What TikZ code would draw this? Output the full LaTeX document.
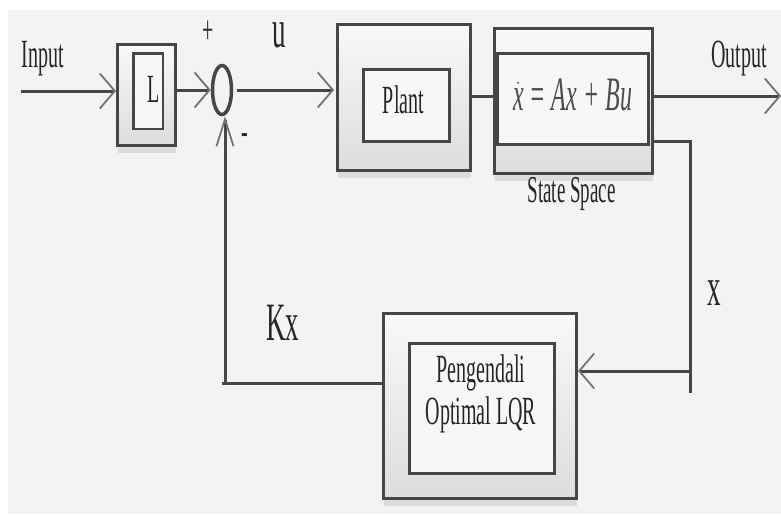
\documentclass[tikz,border=0pt]{standalone}
\usepackage{fontspec}
\setmainfont[FakeStretch=0.5]{Liberation Serif}
\usetikzlibrary{arrows.meta,shapes.geometric,shadows}
\definecolor{ln}{RGB}{70,70,70}
\definecolor{bg}{RGB}{243,243,243}

\begin{document}
\begin{tikzpicture}[x=1pt,y=-1pt,
  wire/.style={draw=ln,line width=3pt},
  harr/.style={wire,-{Straight Barb[length=15pt,width=35pt,line width=1.8pt 0,color=black!55]}},
  varr/.style={wire,-{Straight Barb[length=27pt,width=17pt,line width=1.8pt 0,color=black!55]}},
  outer/.style={draw=ln,line width=3pt,top color=gray!5,bottom color=gray!27,inner sep=0pt,
    drop shadow={shadow xshift=0pt,shadow yshift=-7pt,fill=gray!60,opacity=0.35}},
  inner/.style={draw=ln,line width=2.5pt,fill=bg!70!white,inner sep=0pt},
  lbl/.style={font=\fontsize{40}{42}\selectfont,text=black!85,anchor=base,inner sep=0pt},
  big/.style={font=\fontsize{54}{58}\selectfont,text=black!85,anchor=base,inner sep=0pt}]
  \useasboundingbox (0,0) rectangle (781,514);
  \fill[white] (0,0) rectangle (781,514);
  \fill[bg] (8,10) rectangle (781,514);

  \node[outer,minimum width=58pt,minimum height=101pt] (Lo) at (146.5,95) {};
  \node[inner,minimum width=29.5pt,minimum height=75.5pt] (Li) at (148,91) {};
  \node[draw=ln,line width=3.5pt,ellipse,inner sep=0pt,minimum width=19pt,minimum height=49pt] (sum) at (222,90) {};
  \node[outer,minimum width=133pt,minimum height=146pt] (Po) at (404,97.5) {};
  \node[inner,minimum width=86pt,minimum height=72pt] (Pi) at (406.5,105.5) {};
  \node[outer,minimum width=158pt,minimum height=145pt] (So) at (573.5,101) {};
  \node[inner,minimum width=151pt,minimum height=91pt] (Si) at (573,99) {};
  \node[outer,minimum width=193pt,minimum height=185pt] (Qo) at (480,406) {};
  \node[inner,minimum width=145pt,minimum height=130pt] (Qi) at (482,408.5) {};

  \coordinate (inp) at (21,91);
  \coordinate (outp) at (781,96);
  \coordinate (xtap) at (654,141);
  \coordinate (xcorner) at (690,141);
  \coordinate (xend) at (690,393);
  \coordinate (xin) at (690,371);
  \coordinate (kxo) at (382,383);
  \coordinate (fb) at (225,383);

  \draw[harr] (inp) -- (inp -| Lo.west);
  \draw[harr] (sum -| Lo.east) -- (sum.west);
  \draw[harr,shorten <=4pt,shorten >=2pt] (sum.east) -- (sum -| Po.west);
  \draw[wire] (Po.east |- outp) -- (So.west |- outp);
  \draw[harr] (outp -| So.east) -- (outp);
  \draw[wire] (xtap) -- (xcorner) -- (xend);
  \draw[harr] (xin) -- (xin -| Qo.east);
  \draw[wire] (kxo) -- ([xshift=-3pt]fb);
  \draw[varr] (fb) -- (fb |- sum.south);

  \node[lbl] (tL) at (154,102) {L};
  \node[lbl] (tplant) at (403.5,113) {Plant};
  \node[lbl,font=\fontsize{48}{50}\selectfont\itshape,text=black!70] (teq) at (572.5,110)
    {$\dot{\hbox{x}}$ = Ax + Bu};
  \node[lbl,font=\fontsize{38}{40}\selectfont] (tss) at (571.5,202) {State Space};
  \node[lbl,align=center,anchor=north] (tlqr) at (481,355) {Pengendali\\Optimal LQR};
  \node[lbl] (tin) at (43,67) {Input};
  \node[lbl] (tout) at (739,67) {Output};
  \node[lbl] (tplus) at (208,43) {+};
  \node[lbl] (tminus) at (245,144) {-};
  \node[big] (tu) at (279.5,47) {u};
  \node[big] (tx) at (714.5,305) {x};
  \node[big] (tkx) at (283,340) {Kx};
\end{tikzpicture}
\end{document}
